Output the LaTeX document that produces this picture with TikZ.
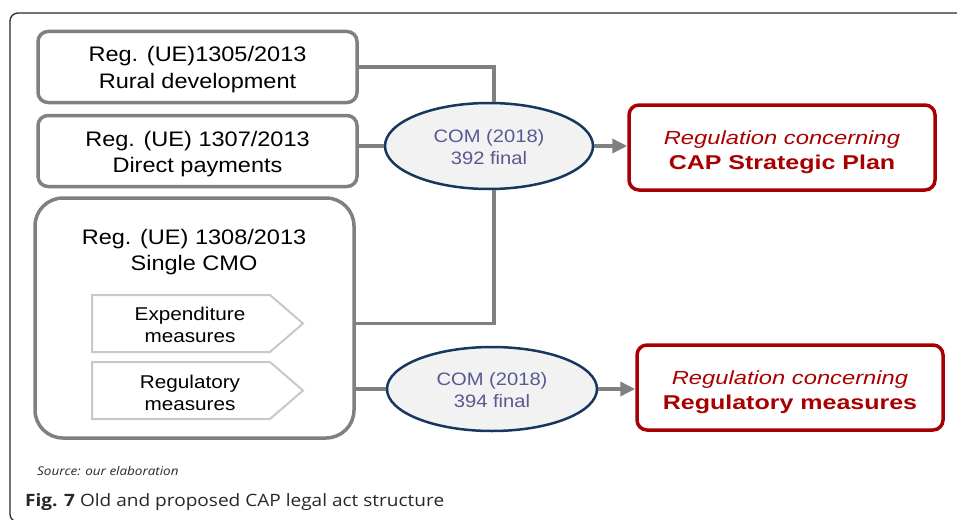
\documentclass[tikz,border=0pt]{standalone}
\usepackage{fontspec}
\setmainfont{Liberation Sans}[FakeStretch=1.12]
\newfontfamily\redfont{Liberation Sans}[FakeStretch=1.25]
\newfontfamily\capfont{Open Sans}[FakeStretch=1.12]
\usepackage{tikz}
\usetikzlibrary{arrows.meta}
\usetikzlibrary{calc}
\usetikzlibrary{shapes.geometric}

\definecolor{boxgray}{RGB}{128,128,128}
\definecolor{measgray}{RGB}{200,200,200}
\definecolor{comnavy}{RGB}{23,55,94}
\definecolor{comtext}{RGB}{89,89,146}
\definecolor{comfill}{RGB}{242,242,242}
\definecolor{capred}{RGB}{168,0,0}
\definecolor{captext}{RGB}{40,40,40}

\begin{document}
\begin{tikzpicture}
	[> = {Triangle[length=15pt,width=14pt]},
	x=1pt, y=-1pt,
	regbox/.style = {draw=boxgray, line width=3.5pt, rounded corners=10pt, minimum width=319pt, minimum height=71pt, inner sep=0pt, align=center, text height=42pt, text depth=0pt, font=\fontsize{21}{26}\selectfont},
	combox/.style = {ellipse, draw=comnavy, line width=2.5pt, fill=comfill, minimum width=208pt, minimum height=86pt, inner sep=0pt, align=center, text height=37pt, text depth=0pt, text=comtext, font=\fontsize{18}{22}\selectfont},
	capbox/.style = {draw=capred, line width=3.5pt, rounded corners=10pt, minimum width=306pt, minimum height=85pt, inner sep=0pt, align=center, text height=43pt, text depth=0pt, text=capred, font=\redfont\fontsize{19}{25}\selectfont},
	meas/.style = {draw=measgray, line width=2pt, fill=white},
	measlabel/.style = {anchor=base, align=center, inner sep=0pt, font=\fontsize{18.5}{22}\selectfont},
	conn/.style = {draw=boxgray, line width=3.5pt}
	]
	\useasboundingbox (0,0) rectangle (957,519);
	\draw[line width=1.3pt, draw=captext, rounded corners=8pt] (990,13) -- (10,13) -- (10,522) -- (990,522);

	\coordinate (jn) at (494,0);
	\coordinate (exptip) at (303,323.5);
	\coordinate (regtip) at (303,390.5);

	\node[regbox] (rd) at (197.5,67) {Reg. (UE)1305/2013\\Rural development};
	\node[regbox] (dp) at (197.5,151) {Reg. (UE) 1307/2013\\Direct payments};
	\node[regbox, minimum height=240pt, rounded corners=28pt] (cmo) at (194.5,318) {};
	\node[measlabel, font=\fontsize{21}{26}\selectfont] (cmotitle) at (194,270.5) {Reg. (UE) 1308/2013\\Single CMO};

	\draw[meas] (92,295) -- (270,295) -- (exptip) -- (270,352) -- (92,352) -- cycle;
	\draw[meas] (92,362) -- (270,362) -- (regtip) -- (270,419) -- (92,419) -- cycle;
	\node[measlabel] (exp) at (190,342.5) {Expenditure\\measures};
	\node[measlabel] (reg) at (190,410) {Regulatory\\measures};

	\node[combox] (e1) at (489,146) {COM (2018)\\392 final};
	\node[combox, minimum width=210pt, minimum height=84pt] (e2) at (492,389) {COM (2018)\\394 final};

	\node[capbox] (cap1) at (782,147.5) {\textit{Regulation concerning}\\\textbf{\fontsize{20}{25}\selectfont CAP Strategic Plan}};
	\node[capbox] (cap2) at (790,387.5) {\textit{Regulation concerning}\\\textbf{\fontsize{20}{25}\selectfont Regulatory measures}};

	\draw[conn] (rd.east) -| (e1.north -| jn);
	\draw[conn] (e1.west -| dp.east) -- (e1.west);
	\draw[conn] (e1.south -| jn) |- (cmo.east |- exptip);
	\draw[conn] (cmo.east |- e2.west) -- (e2.west);
	\draw[conn, ->] (e1.east) -- (e1.east -| cap1.west);
	\draw[conn, ->] (e2.east) -- (e2.east -| cap2.west);

	\node[anchor=base west, inner sep=0pt, text=captext, font=\capfont\itshape\fontsize{12}{14}\selectfont] (src) at (37,475) {Source: our elaboration};
	\node[anchor=base west, inner sep=0pt, text=captext, font=\capfont\fontsize{17}{20}\selectfont] (fig) at (25,506) {\textbf{Fig. 7} Old and proposed CAP legal act structure};
\end{tikzpicture}
\end{document}
